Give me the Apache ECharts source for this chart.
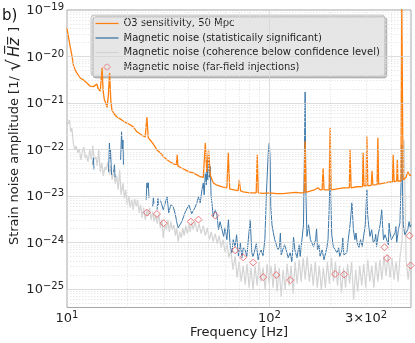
<!DOCTYPE html>
<html>
<head>
<meta charset="utf-8">
<script src="https://cdn.jsdelivr.net/npm/echarts@6/dist/echarts.min.js"></script>
<style>
html, body { margin: 0; padding: 0; background: #fff; }
#chart { width: 415px; height: 343px; }
</style>
</head>
<body>
<div id="chart"></div>
<script>
// values (frequency in Hz, amplitude in 1/sqrt(Hz))
var o3Freq = [10, 10.15, 10.38, 10.6, 10.78, 10.99, 11.2, 11.63, 12.07, 12.55, 13.03, 13.5, 13.79, 14.06, 14.27, 14.6, 14.9, 15.1, 15.3, 15.6,
    15.75, 16.0, 16.23, 16.45, 16.67, 17.1, 17.65, 18.3, 18.95, 19.77, 20.5, 21.25, 22.15, 23.0, 23.8, 24.35, 24.8, 25.2, 25.77, 26.7,
    27.8, 28.9, 30.0, 31.2, 32.35, 33.6, 34.7, 35.0, 35.3, 36.7, 38.4, 40.1, 42.0, 43.8, 45.5, 47.1, 48.2, 49.0, 50.0, 51.0,
    52.7, 54.5, 58.4, 61.6, 62.6, 63.6, 66.8, 70, 70.9, 72.0, 74.2, 80.3, 86, 87.0, 88.0, 93.2, 100.8, 108, 116.8, 126.6,
    135, 141.8, 148.5, 150, 151.7, 160, 167, 173.4, 177.8, 182, 184, 186, 188, 197, 199.4, 201.6, 216, 232, 241, 248,
    250, 253, 270, 288, 290, 293, 300, 302.6, 306, 318, 321, 324, 340, 343, 346, 352, 372, 391, 405, 408,
    413, 425, 428, 431, 446, 450, 457, 472, 482, 495, 500];
var o3Amp = [4.1e-20, 2.75e-20, 1.6e-20, 9.8e-21, 6.25e-21, 5.1e-21, 4.4e-21, 3.45e-21, 3.1e-21, 2.7e-21, 2.3e-21, 2.25e-21, 2.3e-21, 2.55e-21, 2.0e-21, 1.8e-21, 5.7e-21, 1.73e-21, 1.16e-21, 9.6e-22,
    7.85e-22, 1.42e-21, 4.4e-21, 1.16e-21, 7.1e-22, 5.8e-22, 5.0e-22, 4.55e-22, 4.1e-22, 3.7e-22, 3.4e-22, 3.07e-22, 2.4e-22, 2.15e-22, 1.95e-22, 1.87e-22, 5.0e-22, 1.78e-22, 1.6e-22, 1.3e-22,
    9.8e-23, 8.5e-23, 6.95e-23, 6.0e-23, 5.4e-23, 4.9e-23, 4.7e-23, 7.7e-23, 4.45e-23, 4.0e-23, 3.65e-23, 3.3e-23, 3.15e-23, 2.85e-23, 2.6e-23, 2.5e-23, 1.38e-22, 3.3e-23, 9.8e-23, 2.85e-23,
    1.92e-23, 1.74e-23, 1.58e-23, 1.5e-23, 8.5e-23, 1.43e-23, 1.36e-23, 1.3e-23, 2.23e-23, 1.29e-23, 1.23e-23, 1.17e-23, 1.17e-23, 7.7e-23, 1.17e-23, 1.14e-23, 1.17e-23, 1.12e-23, 1.12e-23, 1.17e-23,
    1.2e-23, 1.17e-23, 1.17e-23, 1.5e-22, 1.2e-23, 1.29e-23, 1.36e-23, 1.5e-23, 1.36e-23, 1.36e-23, 4.0e-23, 1.36e-23, 1.36e-23, 1.36e-23, 2.9e-22, 1.36e-23, 1.43e-23, 1.5e-23, 1.5e-23, 1.5e-23,
    9.8e-23, 1.5e-23, 1.58e-23, 1.6e-23, 8.5e-23, 1.66e-23, 1.66e-23, 1.9e-22, 1.66e-23, 1.7e-23, 3.5e-23, 1.74e-23, 1.76e-23, 1.78e-22, 1.8e-23, 1.83e-23, 1.92e-23, 2.0e-23, 2.0e-23, 7.7e-23,
    2.0e-23, 2.1e-23, 6.0e-23, 2.1e-23, 2.1e-23, 2e-19, 2.23e-23, 2.5e-23, 3.3e-23, 2.75e-23, 2.85e-23];

// null = gap (bins below the confidence level)
var sigFreq = [13.4, 13.5, 13.6, 13.7, 16.05, 16.2, 16.35, 16.4, 16.6, 16.8, 17.0, 17.15, 17.3, 17.5, 18.4, 18.6, 18.75, 18.9, 19.0, 19.5,
    24.6, 24.8, 25.05, 25.2, 25.4, 25.8, 26.5, 26.7, 26.9, 27.2, 27.85, 28.1, 28.3, 28.6,
    28.9, 29.9, 31.2, 31.5, 31.8, 32.6, 33.45, 34.3, 34.9, 35.4, 36.2, 36.9, 37.5, 38.4, 39.1, 40.0, 40.65, 41.3, 42.0, 42.9,
    43.8, 44.6, 45.5, 46.4, 47.1, 47.6, 48.2, 48.8, 49.1, 49.6, 50.0, 50.4, 51.0, 51.5, 52.1, 52.7, 53.95, 55.0, 56.0, 57.0,
    58.0, 59.4, 60.3, 61.6, 62.7, 64.0, 65.3, 66.2, 67.7, 68.8, 70.3, 71.7, 73.1, 74.2, 75.8, 77.3, 78.6, 80.3, 81.8, 82.9,
    84.7, 86.1, 87.9, 89.4, 91.0, 92.9, 94.9, 96.6, 98.6, 99.8, 100.8, 101.5, 102.9, 104.5, 106.2, 108.1, 110.2, 112.1, 113.2, 114.2,
    116.4, 118.6, 121.0, 123.6, 126.6, 129, 130, 131.5, 133.5, 136.7, 140, 141.8, 145, 147.2, 148.9, 150, 151.2, 153.1, 156, 159.3,
    162.5, 165, 169, 170.8, 172.7, 176, 177.8, 182, 186, 188.4, 192, 194.6, 197, 199.4, 201, 203, 206.6, 211.3, 216, 219.5,
    222.4, 227.8, 230.2, 233, 241, 245, 250, 255.4, 259.7, 264.2, 267.5, 271, 276.6, 281.5, 287, 290.7, 297.2, 302.6, 305.5, 308.7,
    313.6, 319.7, 325.5, 331.8, 334.8, 338, 344.5, 352, 358.6, 361.8, 365.6, 372, 378.6, 386.5, 389.8, 393.3, 400, 408, 417, 421,
    425, 433, 441, 447, 450, 453, 458, 466, 475, 482, 489, 495, 500];
var sigAmp = [4.7e-23, 6.6e-23, 3.7e-23, null, 3.3e-23, 1.38e-22, 6.0e-23, 9.8e-23, 2.85e-23, null, 3.3e-23, 4.7e-23, 2.5e-23, null, 6.0e-23, 2.4e-22, 9.8e-23, 1.6e-22, 4.7e-23, null,
    8.3e-24, 1.9e-23, 1.5e-23, 2.0e-23, 9.1e-24, null, 5.9e-24, 9.1e-24, 6.7e-24, null, 5.05e-24, 9.1e-24, 6.4e-24, null,
    8.3e-24, 5.05e-24, 9.6e-24, 9.1e-24, 4.35e-24, 6.45e-24, 5.9e-24, 3.95e-24, 2.65e-24, 2.07e-24, 1.88e-24, 2.8e-24, 3.08e-24, 4.58e-24, 5.05e-24, 6.45e-24, 5.95e-24, 4.15e-24, 4.35e-24, 5.7e-24,
    7.15e-24, 9.6e-24, 7.15e-24, 1.36e-23, 1.9e-23, 1.06e-23, 3.15e-23, 1.74e-23, 6.0e-23, 2.23e-23, 7.7e-23, 2.5e-23, 4.3e-23, 9.75e-24, 6.45e-24, 3.6e-24, 5.05e-24, 3.95e-24, 1.88e-24, 2.8e-24,
    3.08e-24, 1.35e-24, 2.07e-24, 1.15e-24, 3.08e-24, 8.2e-25, 6.0e-25, 1.15e-24, 8.2e-25, 1.47e-24, 5.0e-25, 9.9e-25, 4.7e-25, 7.7e-25, 6.9e-25, 5.0e-25, 1.15e-24, 3.08e-24, 6.0e-25, 4.95e-25,
    6.9e-25, 9.4e-25, 4.25e-25, 6.0e-25, 6.9e-25, 5.2e-25, 1.15e-24, 1.17e-23, 8.5e-23, 1.38e-22, 6.0e-23, 5.95e-24, 2.4e-24, 1.62e-24, 1.15e-24, 1.15e-24, 6.9e-25, 8.2e-25, 1.6e-24, 5.45e-25,
    5.0e-25, 8.95e-25, 6.9e-25, 4.7e-25, 6.0e-25, 3.85e-25, 4.25e-25, 1.3e-24, 6.9e-25, 4.7e-25, 8.95e-25, 5.0e-25, 5.45e-25, 2.4e-24, 9.8e-23, 1.73e-21, 1.36e-23, 1.35e-24, 2.4e-24, 1.15e-24,
    1.26e-24, 8.2e-25, 1.15e-24, 2.0e-24, 6.9e-25, 8.95e-25, 5.0e-25, 6.9e-25, 4.25e-25, 4.25e-25, 7.7e-25, 1.15e-24, 5.05e-24, 2.63e-23, 8.3e-24, 1.47e-24, 8.2e-25, 6.9e-25, 6.0e-25, 7.7e-25,
    5.0e-25, 6.9e-25, 1.25e-24, 5.45e-25, 6.0e-25, 1.15e-24, 2.4e-24, 7.15e-24, 1.88e-24, 1.15e-24, 1.6e-24, 9.9e-25, 7.7e-25, 1.15e-24, 8.2e-25, 8.2e-25, 2.4e-24, 1.36e-23, 3.95e-24, 2.4e-24,
    1.35e-24, 1.88e-24, 9.9e-25, 1.15e-24, 1.5e-24, 8.2e-25, 1.47e-24, 2.4e-24, 5.05e-24, 2.4e-24, 1.15e-24, 1.47e-24, 1.35e-24, 8.95e-25, 2.6e-24, 1.7e-24, 1.15e-24, 1.15e-24, 1.62e-24, 2.2e-24,
    9.9e-25, 1.88e-24, 2.65e-24, 2.23e-23, 1.26e-22, 2.23e-23, 2.4e-24, 1.47e-24, 1.35e-24, 1.88e-24, 2.8e-24, 2.15e-24, 2.4e-24];

var lowFreq = [10.0, 10.15, 10.3, 10.43, 10.57, 10.74, 10.93, 11.1, 11.3, 11.5, 11.7, 11.9, 12.1, 12.3, 12.5, 12.7, 12.95, 13.2, 13.4, 13.6,
    13.9, 14.1, 14.35, 14.6, 14.85, 15.1, 15.4, 15.6, 15.9, 16.2, 16.45, 16.7, 17.0, 17.3, 17.6, 17.9, 18.2, 18.5, 18.9, 19.2,
    19.5, 19.85, 20.2, 20.5, 20.9, 21.2, 21.6, 22.0, 22.3, 22.75, 23.1, 23.5, 23.9, 24.35, 24.8, 25.2, 25.6, 26.05, 26.5, 26.95,
    27.45, 27.9, 28.4, 28.9, 29.4, 29.9, 30.4, 31.0, 31.5, 32.0, 32.6, 33.1, 33.7, 34.3, 34.8, 35.4, 36.0, 36.7, 37.3, 37.9,
    38.6, 39.3, 40.0, 40.65, 41.3, 42.0, 42.9, 43.9, 44.9, 46.0, 47.1, 48.2, 49.3, 50.5, 51.6, 52.7, 53.95, 55.2, 56.4, 57.7,
    59.0, 60.3, 61.7, 63.1, 64.5, 66.0, 67.7, 69.2, 70.8, 72.5, 74.2, 75.8, 77.5, 79.3, 81.1, 83.0, 84.9, 86.9, 88.9, 90.9,
    93.0, 95.2, 97.3, 99.6, 101.9, 104.2, 106.6, 109.1, 111.6, 114.2, 116.8, 119.5, 122.2, 125.0, 127.9, 130.9, 133.9, 137.0, 140.2, 143.4,
    146.7, 150.1, 153.6, 157.2, 160.8, 164.5, 168.3, 172.2, 176.2, 180.3, 184.5, 188.8, 193.2, 197.7, 202.3, 207.0, 211.8, 216.7, 221.7, 226.9,
    232.2, 237.6, 243.1, 248.7, 254.5, 260.4, 266.5, 272.7, 279.0, 285.5, 292.1, 298.9, 305.9, 313.0, 320.2, 327.7, 335.3, 343.1, 351.1, 359.2,
    367.6, 376.2, 384.9, 393.9, 403.0, 412.4, 422.0, 431.8, 441.9, 452.2, 457, 462.4, 467.7, 473, 484, 495, 500];
var lowAmp = [5.3e-22, 3.55e-22, 4.3e-22, 2.4e-22, 2.9e-22, 1.38e-22, 9.8e-23, 1.2e-22, 8.5e-23, 1.03e-22, 6.0e-23, 8.9e-23, 1.14e-22, 6.6e-23, 7.7e-23, 5.4e-23, 9.8e-23, 6.0e-23, 1.2e-22, 6.0e-23,
    6.95e-23, 4.45e-23, 9.8e-23, 3.3e-23, 5.2e-23, 2.7e-23, 4.2e-23, 3.65e-23, 5.4e-23, 2.85e-23, 4.45e-23, 2.23e-23, 3.65e-23, 1.83e-23, 2.7e-23, 1.36e-23, 3.65e-23, 1.06e-23, 1.92e-23, 9.1e-24,
    1.36e-23, 6.45e-24, 1.0e-23, 5.6e-24, 8.3e-24, 5.05e-24, 8.7e-24, 5.9e-24, 8.3e-24, 4.35e-24, 6.45e-24, 3.4e-24, 5.6e-24, 3.1e-24, 5.05e-24, 3.75e-24, 5.6e-24, 3.1e-24, 4.6e-24, 2.8e-24,
    3.95e-24, 2.55e-24, 4.1e-24, 2.07e-24, 3.1e-24, 1.26e-24, 2.4e-24, 1.88e-24, 3.1e-24, 1.7e-24, 2.8e-24, 1.88e-24, 2.4e-24, 1.4e-24, 2.07e-24, 1.04e-24, 1.7e-24, 1.26e-24, 2.07e-24, 1.4e-24,
    2.3e-24, 1.55e-24, 2.55e-24, 1.7e-24, 2.8e-24, 1.88e-24, 2.8e-24, 1.7e-24, 2.55e-24, 1.55e-24, 2.3e-24, 1.4e-24, 2.07e-24, 1.15e-24, 1.7e-24, 1.04e-24, 1.55e-24, 9.4e-25, 1.4e-24, 7.7e-25,
    1.15e-24, 6.3e-25, 9.4e-25, 4.7e-25, 6.9e-25, 2.6e-25, 5.2e-25, 1.75e-25, 3.85e-25, 1.44e-25, 3.17e-25, 1.23e-25, 3.5e-25, 1.07e-25, 2.87e-25, 9.65e-26, 3.17e-25, 1.18e-25, 3.85e-25, 1.44e-25,
    2.87e-25, 9.65e-26, 3.5e-25, 1.3e-25, 3.17e-25, 1.07e-25, 3.5e-25, 8.75e-26, 2.87e-25, 6.8e-26, 2.6e-25, 9.65e-26, 3.5e-25, 1.18e-25, 3.17e-25, 7.9e-26, 3.85e-25, 1.3e-25, 4.25e-25, 1.44e-25,
    4.7e-25, 1.58e-25, 5.2e-25, 1.44e-25, 3.5e-25, 1.18e-25, 3.85e-25, 1.07e-25, 3.17e-25, 9.65e-26, 2.87e-25, 1.07e-25, 3.85e-25, 1.3e-25, 4.7e-25, 1.44e-25, 3.85e-25, 1.18e-25, 3.17e-25, 8.3e-26,
    2.87e-25, 1.07e-25, 3.5e-25, 1.3e-25, 3.85e-25, 5.9e-26, 2.6e-25, 8.75e-26, 3.17e-25, 1.18e-25, 3.5e-25, 1.07e-25, 4.25e-25, 1.44e-25, 3.17e-25, 1.07e-25, 3.85e-25, 1.44e-25, 4.25e-25, 1.58e-25,
    5.2e-25, 1.93e-25, 5.45e-25, 1.75e-25, 4.7e-25, 1.58e-25, 3.85e-25, 1.44e-25, 5.2e-25, 1.15e-24, 6.0e-23, 1.6e-22, 8.3e-24, 4.25e-25, 1.58e-25, 3.85e-25, 2.6e-25];

var injFreq = [24.8, 27.8, 30.0, 40.9, 44.6, 54.0, 67.7, 74.2, 83.1, 93.1, 108, 126.6, 211, 234, 370, 381, 492, 498];
var injAmp = [4.4e-24, 4.1e-24, 2.6e-24, 2.8e-24, 3.1e-24, 3.8e-24, 6.8e-25, 4.8e-25, 3.7e-25, 1.8e-25, 2.0e-25, 1.55e-25, 2.1e-25, 2.05e-25, 7.9e-25, 4.6e-25, 1.4e-24, 3.2e-25];

// axis ranges and tick labels
var xRangeHz = [10, 500];
var yRange = [4e-26, 1e-19];
var xLabelHz = [10, 100, 300];
var yLabelExp = [-25, -24, -23, -22, -21, -20, -19];

var nameO3 = 'O3 sensitivity, 50 Mpc';
var nameSig = 'Magnetic noise (statistically significant)';
var nameLow = 'Magnetic noise (coherence below confidence level)';
var nameInj = 'Magnetic noise (far-field injections)';

var colO3 = '#ff7f0e', colSig = '#3d78a9', colLow = '#d3d3d3', colInj = '#e8585a';
var font = 'DejaVu Sans';
var log10 = Math.log10;
// legend icons: a thin bar, and a diamond kept square inside the 23x8 icon box
var lineIcon = 'path://M0,0H23V1.3H0Z';
var diamondIcon = 'path://M0,0M23,8M8,4L11.5,0.5L15,4L11.5,7.5Z';

function toPoints(freqs, amps) {
    return freqs.map(function (f, i) {
        return [log10(f), amps[i] == null ? '-' : log10(amps[i])];
    });
}

// log grid lines (major solid, minor dotted)
var gridLines = [];
var majorStyle = {color: '#d4d4d4', width: 0.8, type: 'solid'};
var minorStyle = {color: '#e3e3e3', width: 0.8, type: [1.5, 1.5]};
for (var n = 1; n <= 2; n++) {
    for (var m = 1; m <= 9; m++) {
        var f = m * Math.pow(10, n);
        if (f <= xRangeHz[0] || f >= xRangeHz[1]) continue;
        gridLines.push({xAxis: log10(f), lineStyle: m == 1 ? majorStyle : minorStyle});
    }
}
for (var e = -26; e <= -20; e++) {
    for (var m = 1; m <= 9; m++) {
        var v = log10(m) + e;
        if (v <= log10(yRange[0]) + 1e-9 || v >= log10(yRange[1]) - 1e-9) continue;
        gridLines.push({yAxis: v, lineStyle: m == 1 ? majorStyle : minorStyle});
    }
}

var tickRich = {
    b: {fontFamily: font, fontSize: 13, color: '#222', lineHeight: 15, verticalAlign: 'bottom'},
    s: {fontFamily: font, fontSize: 10, color: '#222', lineHeight: 10, verticalAlign: 'top'}
};

var myChart = echarts.init(document.getElementById('chart'));

var option = {
    animation: false,
    grid: {
        left: 67, top: 10, width: 344, height: 297.5,
        containLabel: false, outerBoundsMode: 'none',
        show: true, borderColor: '#a6a6a6', borderWidth: 1, backgroundColor: 'rgba(0,0,0,0)'
    },
    xAxis: {
        type: 'value',
        min: log10(xRangeHz[0]),
        max: log10(xRangeHz[1]),
        axisLine: {show: false},
        axisTick: {show: false},
        splitLine: {show: false},
        axisLabel: {
            customValues: xLabelHz.map(log10),
            margin: 3,
            formatter: function (v) {
                if (Math.abs(v - log10(300)) < 1e-6) return '{b|3×10}{s|2}';
                return '{b|10}{s|' + Math.round(v) + '}';
            },
            rich: tickRich
        }
    },
    yAxis: {
        type: 'value',
        min: log10(yRange[0]),
        max: log10(yRange[1]),
        axisLine: {show: false},
        axisTick: {show: false},
        splitLine: {show: false},
        axisLabel: {
            customValues: yLabelExp,
            margin: 3,
            formatter: function (v) {
                return '{b|10}{s|−' + (-Math.round(v)) + '}';
            },
            rich: tickRich
        }
    },
    legend: {
        data: [
            {name: nameO3, icon: lineIcon, itemStyle: {color: colO3, borderWidth: 0}},
            {name: nameSig, icon: lineIcon, itemStyle: {color: colSig, borderWidth: 0}},
            {name: nameLow, icon: lineIcon, itemStyle: {color: colLow, borderWidth: 0}},
            {name: nameInj, icon: diamondIcon, itemStyle: {color: 'rgba(255,255,255,0)', borderColor: colInj, borderWidth: 1}}
        ],
        orient: 'vertical',
        left: 91, top: 15,
        padding: [2.5, 5, 3, 4],
        itemWidth: 23, itemHeight: 8, itemGap: 2.5,
        backgroundColor: '#e6e6e6',
        borderColor: '#c4c4c4', borderWidth: 1, borderRadius: 3,
        shadowColor: 'rgba(0,0,0,0.22)', shadowOffsetX: 2, shadowOffsetY: 2, shadowBlur: 0,
        selectedMode: false,
        textStyle: {fontFamily: font, fontSize: 10, color: '#222', lineHeight: 12}
    },
    graphic: [
        {type: 'text', left: 2, top: 9, style: {text: 'b)', fontFamily: font, fontSize: 15, fill: '#111'}},
        {
            type: 'text', x: 15, y: 136, rotation: Math.PI / 2,
            style: {
                text: '{n|Strain noise amplitude [1/}{r|√}{i|H̅z̅}{n|]}',
                align: 'center', verticalAlign: 'middle',
                rich: {
                    n: {fontFamily: font, fontSize: 13, fill: '#222'},
                    r: {fontFamily: font, fontSize: 19, fill: '#222', padding: [0, 0, 0, 5]},
                    i: {fontFamily: font, fontSize: 15, fontStyle: 'italic', fill: '#222', padding: [0, 6, 0, 2]}
                }
            }
        },
        {
            type: 'text', x: 239, y: 333,
            style: {text: 'Frequency [Hz]', fontFamily: font, fontSize: 13, fill: '#222', align: 'center', verticalAlign: 'middle'}
        }
    ],
    series: [
        {
            type: 'line', name: 'grid', data: [], silent: true, z: 0,
            markLine: {silent: true, symbol: ['none', 'none'], label: {show: false}, animation: false, data: gridLines}
        },
        {
            type: 'line', name: nameLow, data: toPoints(lowFreq, lowAmp), z: 2,
            symbol: 'none', lineStyle: {color: colLow, width: 1.2}, itemStyle: {color: colLow}
        },
        {
            type: 'line', name: nameSig, data: toPoints(sigFreq, sigAmp), z: 3, connectNulls: false,
            symbol: 'none', lineStyle: {color: colSig, width: 1}, itemStyle: {color: colSig}
        },
        {
            type: 'line', name: nameO3, data: toPoints(o3Freq, o3Amp), z: 4,
            symbol: 'none', lineStyle: {color: colO3, width: 1.3}, itemStyle: {color: colO3}
        },
        {
            type: 'scatter', name: nameInj, data: toPoints(injFreq, injAmp), z: 5,
            symbol: 'diamond', symbolSize: 7,
            itemStyle: {color: 'rgba(255,255,255,0)', borderColor: colInj, borderWidth: 1}
        }
    ]
};

myChart.setOption(option);
</script>
</body>
</html>
